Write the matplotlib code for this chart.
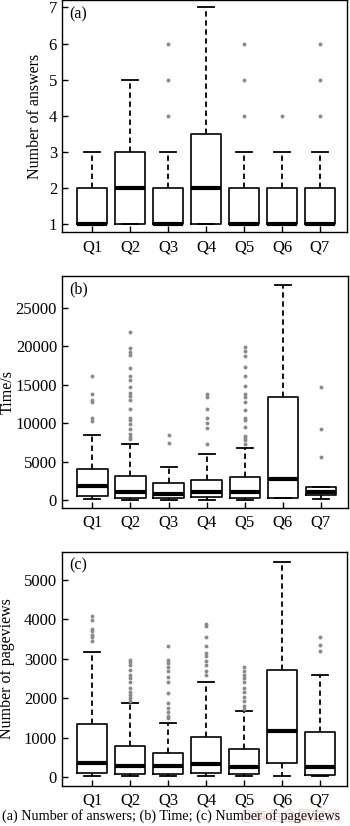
import numpy as np
import matplotlib
matplotlib.use('Agg')
import matplotlib.pyplot as plt

plt.rcParams['font.family'] = ['Liberation Serif', 'DejaVu Serif']

QUESTIONS = ["Q1", "Q2", "Q3", "Q4", "Q5", "Q6", "Q7"]

# (a) number of answers: whisker low, Q1, median, Q3, whisker high, outliers
ans_lo  = [1, 1, 1, 1, 1, 1, 1]
ans_q1  = [1, 1, 1, 1, 1, 1, 1]
ans_med = [1, 2, 1, 2, 1, 1, 1]
ans_q3  = [2, 3, 2, 3.5, 2, 2, 2]
ans_hi  = [3, 5, 3, 7, 3, 3, 3]
ans_out = [[], [], [4, 5, 6], [], [4, 5, 6], [4], [4, 5, 6]]

# (b) time (s)
time_lo  = [130, 40, 40, 40, 40, 300, 220]
time_q1  = [600, 300, 260, 430, 300, 300, 650]
time_med = [1860, 1080, 780, 1080, 1080, 2720, 1120]
time_q3  = [4020, 3200, 2290, 2680, 3070, 13360, 1770]
time_hi  = [8480, 7270, 4370, 5970, 6750, 27980, 1770]
time_out = [
    [16130, 13750, 13020, 12720, 10640, 10340],
    [21800, 19810, 19200, 18860, 17210, 16180, 15660, 14660, 13880, 13540,
     13020, 11810, 10730, 10420, 9900, 9260, 8560, 8260, 7920],
    [8430, 7400],
    [13800, 13450, 11810, 10640, 10080, 9340, 7310],
    [19850, 19330, 18730, 17260, 16180, 14880, 13800, 13450, 12800, 11720,
     10640, 10420, 9470, 8390, 8130, 7790, 7350],
    [],
    [14660, 9300, 5580],
]

# (c) number of pageviews
pv_lo  = [34, 34, 34, 34, 34, 34, 34]
pv_q1  = [118, 93, 93, 118, 93, 372, 68]
pv_med = [355, 287, 287, 330, 262, 1180, 262]
pv_q3  = [1350, 800, 625, 1020, 720, 2710, 1150]
pv_hi  = [3160, 1875, 1385, 2400, 1690, 5460, 2590]
pv_out = [
    [4090, 3970, 3750, 3690, 3610, 3560, 3440],
    [2970, 2910, 2830, 2720, 2590, 2510, 2400, 2270, 2170, 2090, 2000, 1920],
    [3330, 2970, 2890, 2780, 2680, 2550, 2400, 2130, 1875, 1750, 1660, 1560, 1510],
    [3880, 3820, 3560, 3330, 3140, 3060, 2950, 2850, 2690, 2590],
    [2800, 2680, 2590, 2510, 2400, 2270, 2170, 2040, 1920, 1810, 1720],
    [],
    [3550, 3340, 3200],
]


def make_stats(lo, q1, med, q3, hi, out):
    return [dict(whislo=a, q1=b, med=c, q3=d, whishi=e, fliers=f, label=lab)
            for a, b, c, d, e, f, lab in zip(lo, q1, med, q3, hi, out, QUESTIONS)]


def draw_panel(ax, stats, ylim, yticks, ylabel, label_x, tag):
    ax.bxp(stats, positions=range(1, 8), widths=0.8, showfliers=True,
           boxprops=dict(color="black", lw=1.2),
           medianprops=dict(color="black", lw=3.0),
           whiskerprops=dict(color="black", lw=1.3, ls=(0, (3, 2))),
           capprops=dict(color="black", lw=1.3),
           capwidths=0.42,
           flierprops=dict(marker="o", ms=2.8, mfc="#8a8a8a", mec="none"))
    ax.set_xlim(0.2, 7.7)
    ax.set_ylim(*ylim)
    ax.set_yticks(yticks)
    ax.set_xticks(range(1, 8))
    ax.set_xticklabels(QUESTIONS)
    ax.tick_params(direction="in", length=4, width=1, labelsize=12)
    ax.tick_params(axis="x", pad=5)
    ax.tick_params(axis="y", pad=3.5)
    for s in ax.spines.values():
        s.set_linewidth(1.0)
    ax.set_ylabel(ylabel, fontsize=11.5)
    ax.yaxis.set_label_coords(label_x, 0.5)
    ax.text(0.025, 0.975, tag, transform=ax.transAxes, ha="left", va="top", fontsize=11.5)


fig = plt.figure(figsize=(3.5, 8.26), dpi=100)
ax_a = fig.add_axes([0.177, 0.7186, 0.813, 0.2812])
ax_b = fig.add_axes([0.177, 0.3850, 0.816, 0.2809])
ax_c = fig.add_axes([0.177, 0.0484, 0.813, 0.2833])

draw_panel(ax_a, make_stats(ans_lo, ans_q1, ans_med, ans_q3, ans_hi, ans_out),
           (0.77, 7.2), range(1, 8), "Number of answers", -0.067, "(a)")
draw_panel(ax_b, make_stats(time_lo, time_q1, time_med, time_q3, time_hi, time_out),
           (-1000, 29130), range(0, 25001, 5000), "Time/s", -0.162, "(b)")
draw_panel(ax_c, make_stats(pv_lo, pv_q1, pv_med, pv_q3, pv_hi, pv_out),
           (-220, 5700), range(0, 5001, 1000), "Number of pageviews", -0.165, "(c)")

fig.text(0.006, 0.012, "(a) Number of answers; (b) Time; (c) Number of pageviews",
         ha="left", va="center", fontsize=10.2)
fig.text(0.975, 0.011, "@有色金属在线", ha="right", va="center", fontsize=10.5,
         color="#e06060", alpha=0.3, family=["Noto Sans CJK SC", "DejaVu Sans"])

fig.savefig("out.png", dpi=100)
